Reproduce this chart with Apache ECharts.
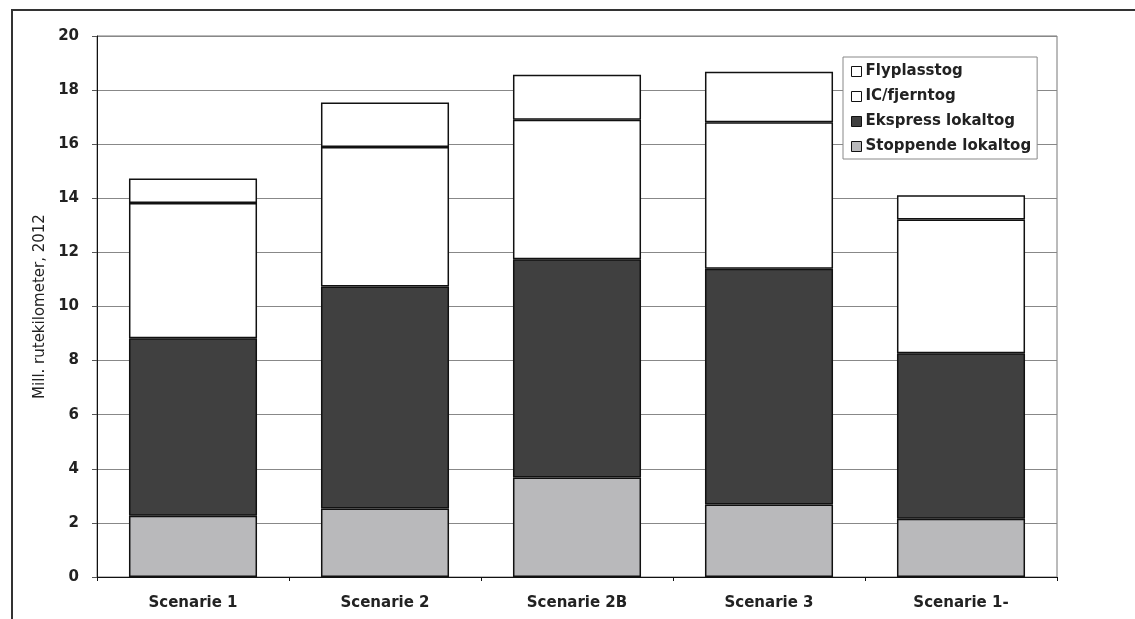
<!DOCTYPE html>
<html>
<head>
<meta charset="utf-8">
<script src="https://cdn.jsdelivr.net/npm/echarts@6/dist/echarts.min.js"></script>
<style>
  html, body { margin: 0; padding: 0; background: #fff; }
  #chart { width: 1135px; height: 619px; }
</style>
</head>
<body>
<div id="chart"></div>
<script>
// Route kilometres (millions, 2012) per scenario, split by train type
const categories = ['Scenarie 1', 'Scenarie 2', 'Scenarie 2B', 'Scenarie 3', 'Scenarie 1-'];
const stoppendeLokaltog = [2.26, 2.53, 3.68, 2.68, 2.15];
const ekspressLokaltog  = [6.57, 8.21, 8.07, 8.72, 6.12];
const icFjerntog        = [5.00, 5.16, 5.15, 5.41, 4.95];
const flyplasstog       = [0.90, 1.64, 1.67, 1.87, 0.89];
const yTicks = { min: 0, max: 20, interval: 2 };

const FONT = '"DejaVu Sans", "Liberation Sans", Arial, sans-serif';
const edge = { borderColor: '#111', borderWidth: 1.5 };

function barSeries(name, data, color) {
  return {
    name: name,
    type: 'bar',
    stack: 'total',
    barWidth: '66.7%',
    data: data,
    itemStyle: Object.assign({ color: color }, edge),
    emphasis: { disabled: true }
  };
}

const chart = echarts.init(document.getElementById('chart'), null, { renderer: 'canvas' });
chart.setOption({
  animation: false,
  backgroundColor: '#fff',
  textStyle: { fontFamily: FONT },
  graphic: [{
    type: 'rect',
    shape: { x: 12, y: 10, width: 1300, height: 800 },
    style: { fill: 'none', stroke: '#333', lineWidth: 2 },
    silent: true
  }],
  grid: {
    left: 97, right: 78, top: 36, bottom: 42,
    show: true, borderColor: '#777', borderWidth: 1
  },
  legend: {
    orient: 'vertical',
    left: 843, top: 57,
    padding: [7, 6, 5, 8],
    itemGap: 10,
    itemWidth: 10, itemHeight: 10,
    icon: 'rect',
    backgroundColor: '#fff',
    borderColor: '#888', borderWidth: 1,
    borderRadius: 0,
    selectedMode: false,
    itemStyle: { borderColor: '#111', borderWidth: 1 },
    textStyle: { fontFamily: FONT, fontSize: 15, fontWeight: 'bold', color: '#222', padding: [0, 0, 0, -1] },
    data: ['Flyplasstog', 'IC/fjerntog', 'Ekspress lokaltog', 'Stoppende lokaltog']
  },
  xAxis: {
    type: 'category',
    data: categories,
    axisLine: { lineStyle: { color: '#111', width: 1 } },
    axisTick: { show: true, length: 4, lineStyle: { color: '#111' } },
    axisLabel: { margin: 19, fontFamily: FONT, fontSize: 15, fontWeight: 'bold', color: '#222' }
  },
  yAxis: {
    type: 'value',
    min: yTicks.min, max: yTicks.max, interval: yTicks.interval,
    name: 'Mill. rutekilometer, 2012',
    nameLocation: 'middle',
    nameGap: 49,
    nameRotate: 90,
    nameTextStyle: { fontFamily: FONT, fontSize: 15, color: '#222' },
    axisLine: { show: true, lineStyle: { color: '#111', width: 1 } },
    axisTick: { show: true, length: 5, lineStyle: { color: '#555' } },
    splitLine: { show: true, lineStyle: { color: '#888', width: 1 } },
    axisLabel: { margin: 18, fontFamily: FONT, fontSize: 15, fontWeight: 'bold', color: '#222' }
  },
  series: [
    barSeries('Stoppende lokaltog', stoppendeLokaltog, '#b9b9bb'),
    barSeries('Ekspress lokaltog', ekspressLokaltog, '#404040'),
    barSeries('IC/fjerntog', icFjerntog, '#ffffff'),
    barSeries('Flyplasstog', flyplasstog, '#ffffff')
  ]
});
</script>
</body>
</html>
